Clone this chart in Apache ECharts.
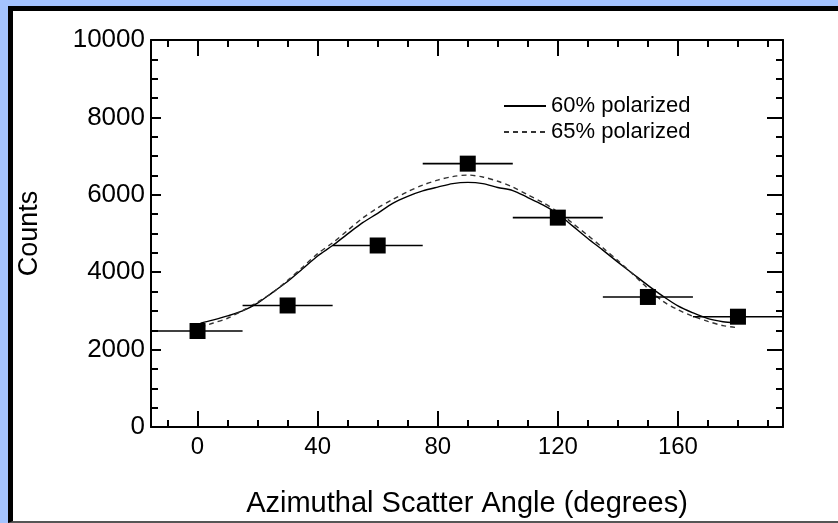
<!DOCTYPE html>
<html>
<head>
<meta charset="utf-8">
<script src="https://cdn.jsdelivr.net/npm/echarts@6/dist/echarts.min.js"></script>
<style>
  html, body { margin: 0; padding: 0; width: 100%; height: 100%; }
  body { background: #a4c3fe; overflow: hidden; }
  #panel {
    position: fixed; left: 8px; top: 6px; right: -4px; bottom: 0;
    background: #ffffff; box-sizing: border-box;
    border-left: 5px solid #000; border-top: 5px solid #000; border-bottom: 2px solid #555;
  }
  #chart { position: fixed; left: 0; top: 0; width: 838px; height: 523px; }
</style>
</head>
<body>
<div id="panel"></div>
<div id="chart"></div>
<script>
// Measured counts per azimuthal bin (30-degree bins)
const binAngles = [0, 30, 60, 90, 120, 150, 180];
const binCounts = [2480, 3140, 4690, 6805, 5410, 3360, 2850];
const binHalfWidth = [15, 15, 15, 15, 15, 15, 15];

// Simulated response curves
const curveAngles = [1, 5, 10, 15, 20, 25, 30, 35, 40, 45, 50, 55, 60, 65, 70, 75, 80, 85, 90,
                     95, 100, 105, 110, 115, 120, 125, 130, 135, 140, 145, 150, 155, 160, 165, 170, 175, 179];
const pol60 = [2680, 2760, 2870, 3000, 3200, 3480, 3760, 4090, 4420, 4690, 4990, 5280, 5520, 5780, 5960, 6100, 6200, 6290, 6320,
               6290, 6190, 6110, 5930, 5740, 5510, 5190, 4870, 4570, 4260, 3960, 3660, 3380, 3130, 2950, 2800, 2720, 2690];
const pol65 = [2580, 2680, 2810, 3010, 3230, 3470, 3790, 4130, 4480, 4760, 5080, 5400, 5660, 5880, 6080, 6250, 6380, 6470, 6510,
               6460, 6350, 6200, 6000, 5800, 5560, 5260, 4950, 4630, 4300, 3950, 3580, 3250, 3030, 2860, 2730, 2620, 2575];

// Axis ticks
const xMajorTicks = [0, 40, 80, 120, 160];
const xMinorTicks = [-10, 0, 10, 20, 30, 40, 50, 60, 70, 80, 90, 100, 110, 120, 130, 140, 150, 160, 170, 180, 190];

const FONT = '"Liberation Sans", Arial, Helvetica, sans-serif';
const X_MIN = -15.5, X_MAX = 195;

const chart = echarts.init(document.getElementById('chart'), null, { renderer: 'canvas' });

function xAxisDef(pos, ticks, len, withLabels, withLine) {
  return {
    type: 'value', position: pos, min: X_MIN, max: X_MAX,
    axisLine: { show: withLine, onZero: false, lineStyle: { color: '#000', width: 2 } },
    axisTick: { show: true, inside: true, length: len, customValues: ticks, lineStyle: { color: '#000', width: 2 } },
    axisLabel: withLabels
      ? { show: true, customValues: xMajorTicks, margin: 8, fontSize: 24, color: '#000', fontFamily: FONT }
      : { show: false },
    splitLine: { show: false }
  };
}

function yAxisDef(pos, majorLen, withLabels) {
  return {
    type: 'value', position: pos, min: 0, max: 10000, interval: 2000,
    axisLine: { show: true, onZero: false, lineStyle: { color: '#000', width: 2 } },
    axisTick: { show: true, inside: true, length: majorLen, lineStyle: { color: '#000', width: 2 } },
    minorTick: { show: true, splitNumber: 4, length: 7, lineStyle: { color: '#000', width: 2 } },
    axisLabel: withLabels
      ? { show: true, margin: 6, fontSize: 26, color: '#000', fontFamily: FONT, formatter: v => String(v) }
      : { show: false },
    splitLine: { show: false }, minorSplitLine: { show: false }
  };
}

const serieCurve = (name, data, dashed) => ({
  name, type: 'line', symbol: 'none', smooth: 0.3,
  data: curveAngles.map((a, i) => [a, data[i]]),
  lineStyle: dashed ? { color: '#333', width: 1.4, type: [5, 4] } : { color: '#000', width: 1.4 },
  itemStyle: { color: dashed ? '#333' : '#000' },
  z: 3
});

chart.setOption({
  animation: false,
  backgroundColor: 'transparent',
  grid: { left: 151, right: 55, top: 40, bottom: 95 },
  legend: {
    data: ['60% polarized', '65% polarized'],
    orient: 'vertical', left: 498, top: 90,
    itemWidth: 42, itemHeight: 14, itemGap: 4,
    itemStyle: { opacity: 0 },
    textStyle: { fontSize: 22, color: '#000', fontFamily: FONT }
  },
  xAxis: [
    Object.assign(xAxisDef('bottom', xMajorTicks, 16, true, true), {
      name: 'Azimuthal Scatter Angle (degrees)', nameLocation: 'middle', nameGap: 62,
      nameTextStyle: { fontSize: 29, color: '#000', fontFamily: FONT }
    }),
    xAxisDef('bottom', xMinorTicks, 7, false, false),
    xAxisDef('top', xMajorTicks, 16, false, true),
    xAxisDef('top', xMinorTicks, 7, false, false)
  ],
  yAxis: [
    Object.assign(yAxisDef('left', 10, true), {
      name: 'Counts', nameLocation: 'middle', nameGap: 108,
      nameTextStyle: { fontSize: 27, color: '#000', fontFamily: FONT }
    }),
    yAxisDef('right', 16, false)
  ],
  series: [
    serieCurve('60% polarized', pol60, false),
    serieCurve('65% polarized', pol65, true),
    {
      // horizontal bin-width bars
      name: 'bins', type: 'custom',
      data: binAngles.map((a, i) => [a, binCounts[i], binHalfWidth[i]]),
      renderItem: function (params, api) {
        const x = api.value(0), y = api.value(1), h = api.value(2);
        const p1 = api.coord([x - h, y]);
        const p2 = api.coord([x + h, y]);
        return {
          type: 'line',
          shape: { x1: p1[0], y1: p1[1], x2: p2[0], y2: p2[1] },
          style: { stroke: '#000', lineWidth: 1.6 }
        };
      },
      z: 4
    },
    {
      name: 'counts', type: 'scatter', symbol: 'rect', symbolSize: 16,
      data: binAngles.map((a, i) => [a, binCounts[i]]),
      itemStyle: { color: '#000', opacity: 1 },
      z: 5
    }
  ]
});
</script>
</body>
</html>
